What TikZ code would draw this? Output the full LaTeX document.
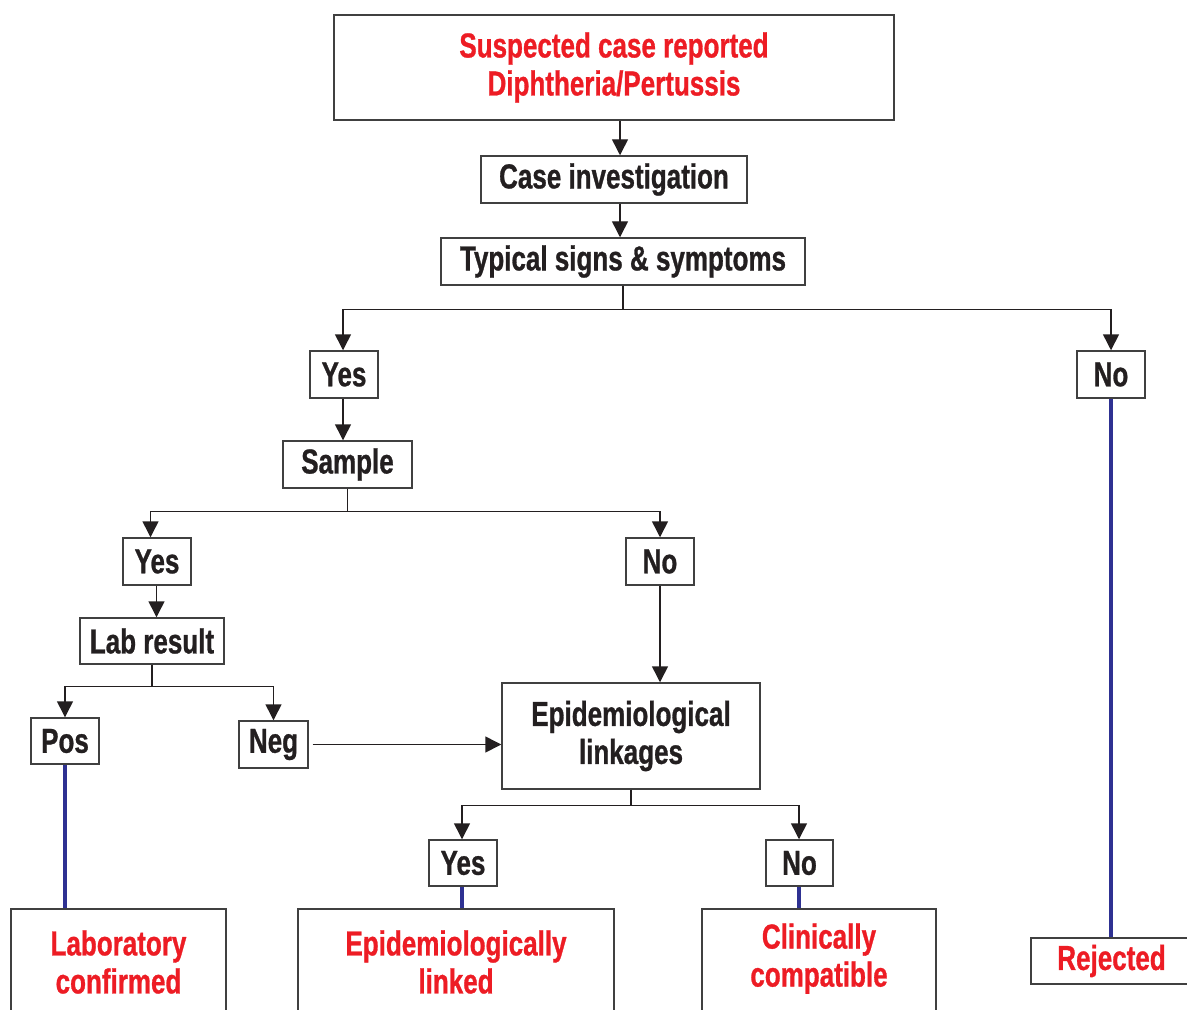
\documentclass[tikz,border=0pt]{standalone}
\usepackage{fontspec}
\newfontfamily\condfont[FakeStretch=0.75,FakeBold=0.8]{Liberation Sans}
\usetikzlibrary{arrows.meta}
\definecolor{txtred}{RGB}{237,28,36}
\definecolor{txtblack}{RGB}{35,31,32}
\definecolor{boxgray}{RGB}{64,64,64}
\definecolor{navy}{RGB}{46,49,146}
\tikzset{
  box/.style={draw=boxgray, line width=1.1pt, fill=white, inner sep=0pt, align=center,
    text=txtblack, font=\condfont\bfseries\fontsize{26}{28.5}\selectfont},
  redbox/.style={box, text=txtred},
  conn/.style={draw=txtblack, line width=1.1pt},
  arr/.style={conn, -{Triangle[width=12pt,length=12pt]}},
  blueline/.style={draw=navy, line width=3pt}
}
\newcommand\W[1]{#1*0.75pt}
\begin{document}
\begin{tikzpicture}[x=0.75pt, y={(0pt,-0.75pt)}]
\useasboundingbox (0,0) rectangle (1187,1009);
\clip (0,0) rectangle (1187,1009);
\fill[white] (0,0) rectangle (1187,1009);
% nodes
\node[redbox, minimum width=\W{560}, minimum height=\W{105}] (top) at (614,67.5) {Suspected case reported\\Diphtheria/Pertussis};
\node[box, minimum width=\W{266}, minimum height=\W{47}] (case) at (614,179.5) {Case investigation};
\node[box, minimum width=\W{364}, minimum height=\W{47}] (typ) at (623,261.5) {Typical signs \& symptoms};
\node[box, minimum width=\W{68}, minimum height=\W{47}] (yesA) at (344,374.5) {Yes};
\node[box, minimum width=\W{68}, minimum height=\W{47}] (noA) at (1111,374.5) {No};
\node[box, minimum width=\W{129}, minimum height=\W{47}] (sample) at (347.5,464.5) {Sample};
\node[box, minimum width=\W{68}, minimum height=\W{47}] (yesB) at (157,561.5) {Yes};
\node[box, minimum width=\W{68}, minimum height=\W{47}] (noB) at (660,561.5) {No};
\node[box, minimum width=\W{144}, minimum height=\W{46}] (lab) at (152,641) {Lab result};
\node[box, minimum width=\W{68}, minimum height=\W{46}] (pos) at (65,741) {Pos};
\node[box, minimum width=\W{69}, minimum height=\W{47}] (neg) at (273.5,744.5) {Neg};
\node[box, minimum width=\W{258}, minimum height=\W{106}] (epi) at (631,736) {Epidemiological\\linkages};
\node[box, minimum width=\W{68}, minimum height=\W{46}] (yesC) at (463,863) {Yes};
\node[box, minimum width=\W{67}, minimum height=\W{46}] (noC) at (799.5,863) {No};
\node[redbox, minimum width=\W{215}, minimum height=\W{106}] (labc) at (118.5,962) {Laboratory\\confirmed};
\node[redbox, minimum width=\W{316}, minimum height=\W{106}] (epil) at (456,962) {Epidemiologically\\linked};
\node[redbox, minimum width=\W{234}, minimum height=\W{120}, text depth=\W{28}] (clin) at (819,969) {Clinically\\compatible};
\node[redbox, minimum width=\W{161}, minimum height=\W{46}] (rej) at (1111.5,961) {Rejected};
% connectors
\draw[arr] (top.south -| 620,0) -- (case.north -| 620,0);
\draw[arr] (case.south -| 620,0) -- (typ.north -| 620,0);
\draw[arr] (typ.south) -- ++(0,24) -| (yesA.north -| 343,0);
\draw[arr] (typ.south) -- ++(0,24) -| (noA.north);
\draw[arr] (yesA.south -| 343,0) -- (sample.north -| 343,0);
\draw[arr] (sample.south) -- ++(0,23) -| (yesB.north -| 150.5,0);
\draw[arr] (sample.south) -- ++(0,23) -| (noB.north);
\draw[arr] (yesB.south -| 156.5,0) -- (lab.north -| 156.5,0);
\draw[arr] (lab.south) -- ++(0,22) -| (pos.north);
\draw[arr] (lab.south) -- ++(0,22) -| (neg.north);
\draw[arr] ([xshift=3pt]neg.east) -- (epi.west |- neg.east);
\draw[arr] (noB.south) -- (epi.north -| noB.south);
\draw[arr] (epi.south) -- ++(0,16) -| (yesC.north -| 462,0);
\draw[arr] (epi.south) -- ++(0,16) -| (noC.north -| 799,0);
\draw[blueline] (pos.south) -- (labc.north -| pos.south);
\draw[blueline] (yesC.south -| 462,0) -- (epil.north -| 462,0);
\draw[blueline] (noC.south -| 799,0) -- (clin.north -| 799,0);
\draw[blueline] (noA.south) -- (rej.north -| noA.south);
\end{tikzpicture}
\end{document}
